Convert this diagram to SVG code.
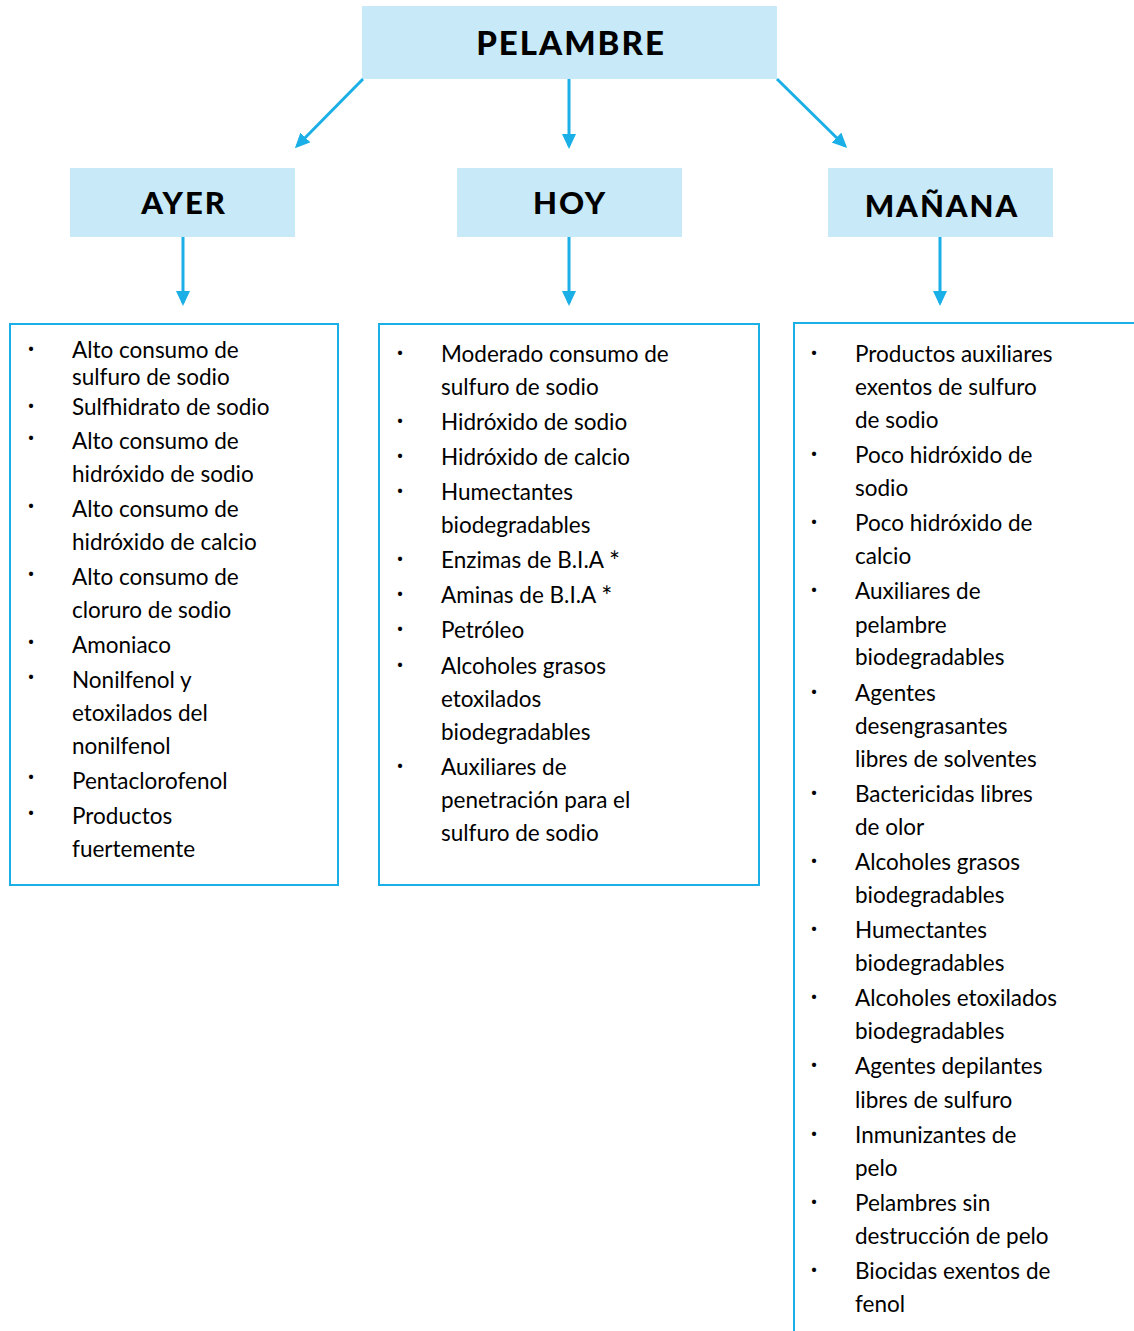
<svg xmlns="http://www.w3.org/2000/svg" width="1134" height="1331" viewBox="0 0 1134 1331">
<defs>
<marker id="ah" markerWidth="16" markerHeight="16" refX="12" refY="7" orient="auto" markerUnits="userSpaceOnUse">
<path d="M0,0 L15,7 L0,14 Z" fill="#1aafe6"/>
</marker>
<style>
.hdr{fill:#c7e9f8}
.hdt{font-family:Lato,"Open Sans",sans-serif;font-weight:900;fill:#000;text-anchor:middle;letter-spacing:2px}
.lst{fill:#fff;stroke:#1aafe6;stroke-width:2}
.t{font-family:Lato,"Open Sans",sans-serif;font-size:22.5px;fill:#000}
.b{font-family:Lato,"Open Sans",sans-serif;font-size:22px;fill:#000;font-weight:bold}
.con line{stroke:#1aafe6;stroke-width:3;marker-end:url(#ah)}
</style>
</defs>
<rect width="1134" height="1331" fill="#fff"/>
<g id="pelambre">
<rect class="hdr" x="362" y="6" width="415" height="73"/>
<text class="hdt" x="571" y="55" font-size="33">PELAMBRE</text>
</g>
<g id="ayer">
<rect class="hdr" x="70" y="168" width="225" height="69"/>
<text class="hdt" x="184" y="214" font-size="31">AYER</text>
</g>
<g id="hoy">
<rect class="hdr" x="457" y="168" width="225" height="69"/>
<text class="hdt" x="570" y="214" font-size="31">HOY</text>
</g>
<g id="manana">
<rect class="hdr" x="828" y="168" width="225" height="69"/>
<text class="hdt" x="942" y="217" font-size="31">MAÑANA</text>
</g>
<g class="con" id="connectors">
<line x1="363" y1="79" x2="297" y2="146"/>
<line x1="569" y1="79" x2="569" y2="146"/>
<line x1="777" y1="79" x2="845" y2="146"/>
<line x1="183" y1="237" x2="183" y2="303"/>
<line x1="569" y1="237" x2="569" y2="303"/>
<line x1="940" y1="237" x2="940" y2="303"/>
</g>
<g id="list-ayer">
<rect class="lst" x="10" y="324" width="328" height="561"/>
<g class="b"><text x="28" y="356">·</text><text x="28" y="413">·</text><text x="28" y="445">·</text><text x="28" y="513">·</text><text x="28" y="581">·</text><text x="28" y="649">·</text><text x="28" y="684">·</text><text x="28" y="784">·</text><text x="28" y="820">·</text></g>
<g class="t">
<text x="72" y="358">Alto consumo de</text>
<text x="72" y="385">sulfuro de sodio</text>
<text x="72" y="415">Sulfhidrato de sodio</text>
<text x="72" y="449">Alto consumo de</text>
<text x="72" y="482">hidróxido de sodio</text>
<text x="72" y="517">Alto consumo de</text>
<text x="72" y="550">hidróxido de calcio</text>
<text x="72" y="585">Alto consumo de</text>
<text x="72" y="618">cloruro de sodio</text>
<text x="72" y="653">Amoniaco</text>
<text x="72" y="688">Nonilfenol y</text>
<text x="72" y="721">etoxilados del</text>
<text x="72" y="754">nonilfenol</text>
<text x="72" y="789">Pentaclorofenol</text>
<text x="72" y="824">Productos</text>
<text x="72" y="857">fuertemente</text>
</g>
</g>
<g id="list-hoy">
<rect class="lst" x="379" y="324" width="380" height="561"/>
<g class="b"><text x="397" y="360">·</text><text x="397" y="428">·</text><text x="397" y="463">·</text><text x="397" y="498">·</text><text x="397" y="566">·</text><text x="397" y="601">·</text><text x="397" y="636">·</text><text x="397" y="672">·</text><text x="397" y="773">·</text></g>
<g class="t">
<text x="441" y="362">Moderado consumo de</text>
<text x="441" y="395">sulfuro de sodio</text>
<text x="441" y="430">Hidróxido de sodio</text>
<text x="441" y="465">Hidróxido de calcio</text>
<text x="441" y="500">Humectantes</text>
<text x="441" y="533">biodegradables</text>
<text x="441" y="568">Enzimas de B.I.A <tspan font-size="26" dy="3">*</tspan></text>
<text x="441" y="603">Aminas de B.I.A <tspan font-size="26" dy="3">*</tspan></text>
<text x="441" y="638">Petróleo</text>
<text x="441" y="674">Alcoholes grasos</text>
<text x="441" y="707">etoxilados</text>
<text x="441" y="740">biodegradables</text>
<text x="441" y="775">Auxiliares de</text>
<text x="441" y="808">penetración para el</text>
<text x="441" y="841">sulfuro de sodio</text>
</g>
</g>
<g id="list-manana">
<rect class="lst" x="794" y="323" width="360" height="1030"/>
<g class="b"><text x="811" y="360">·</text><text x="811" y="461">·</text><text x="811" y="529">·</text><text x="811" y="597">·</text><text x="811" y="699">·</text><text x="811" y="800">·</text><text x="811" y="868">·</text><text x="811" y="936">·</text><text x="811" y="1004">·</text><text x="811" y="1072">·</text><text x="811" y="1141">·</text><text x="811" y="1209">·</text><text x="811" y="1277">·</text></g>
<g class="t">
<text x="855" y="362">Productos auxiliares</text>
<text x="855" y="395">exentos de sulfuro</text>
<text x="855" y="428">de sodio</text>
<text x="855" y="463">Poco hidróxido de</text>
<text x="855" y="496">sodio</text>
<text x="855" y="531">Poco hidróxido de</text>
<text x="855" y="564">calcio</text>
<text x="855" y="599">Auxiliares de</text>
<text x="855" y="633">pelambre</text>
<text x="855" y="665">biodegradables</text>
<text x="855" y="701">Agentes</text>
<text x="855" y="734">desengrasantes</text>
<text x="855" y="767">libres de solventes</text>
<text x="855" y="802">Bactericidas libres</text>
<text x="855" y="835">de olor</text>
<text x="855" y="870">Alcoholes grasos</text>
<text x="855" y="903">biodegradables</text>
<text x="855" y="938">Humectantes</text>
<text x="855" y="971">biodegradables</text>
<text x="855" y="1006">Alcoholes etoxilados</text>
<text x="855" y="1039">biodegradables</text>
<text x="855" y="1074">Agentes depilantes</text>
<text x="855" y="1108">libres de sulfuro</text>
<text x="855" y="1143">Inmunizantes de</text>
<text x="855" y="1176">pelo</text>
<text x="855" y="1211">Pelambres sin</text>
<text x="855" y="1244">destrucción de pelo</text>
<text x="855" y="1279">Biocidas exentos de</text>
<text x="855" y="1312">fenol</text>
</g>
</g>
</svg>
